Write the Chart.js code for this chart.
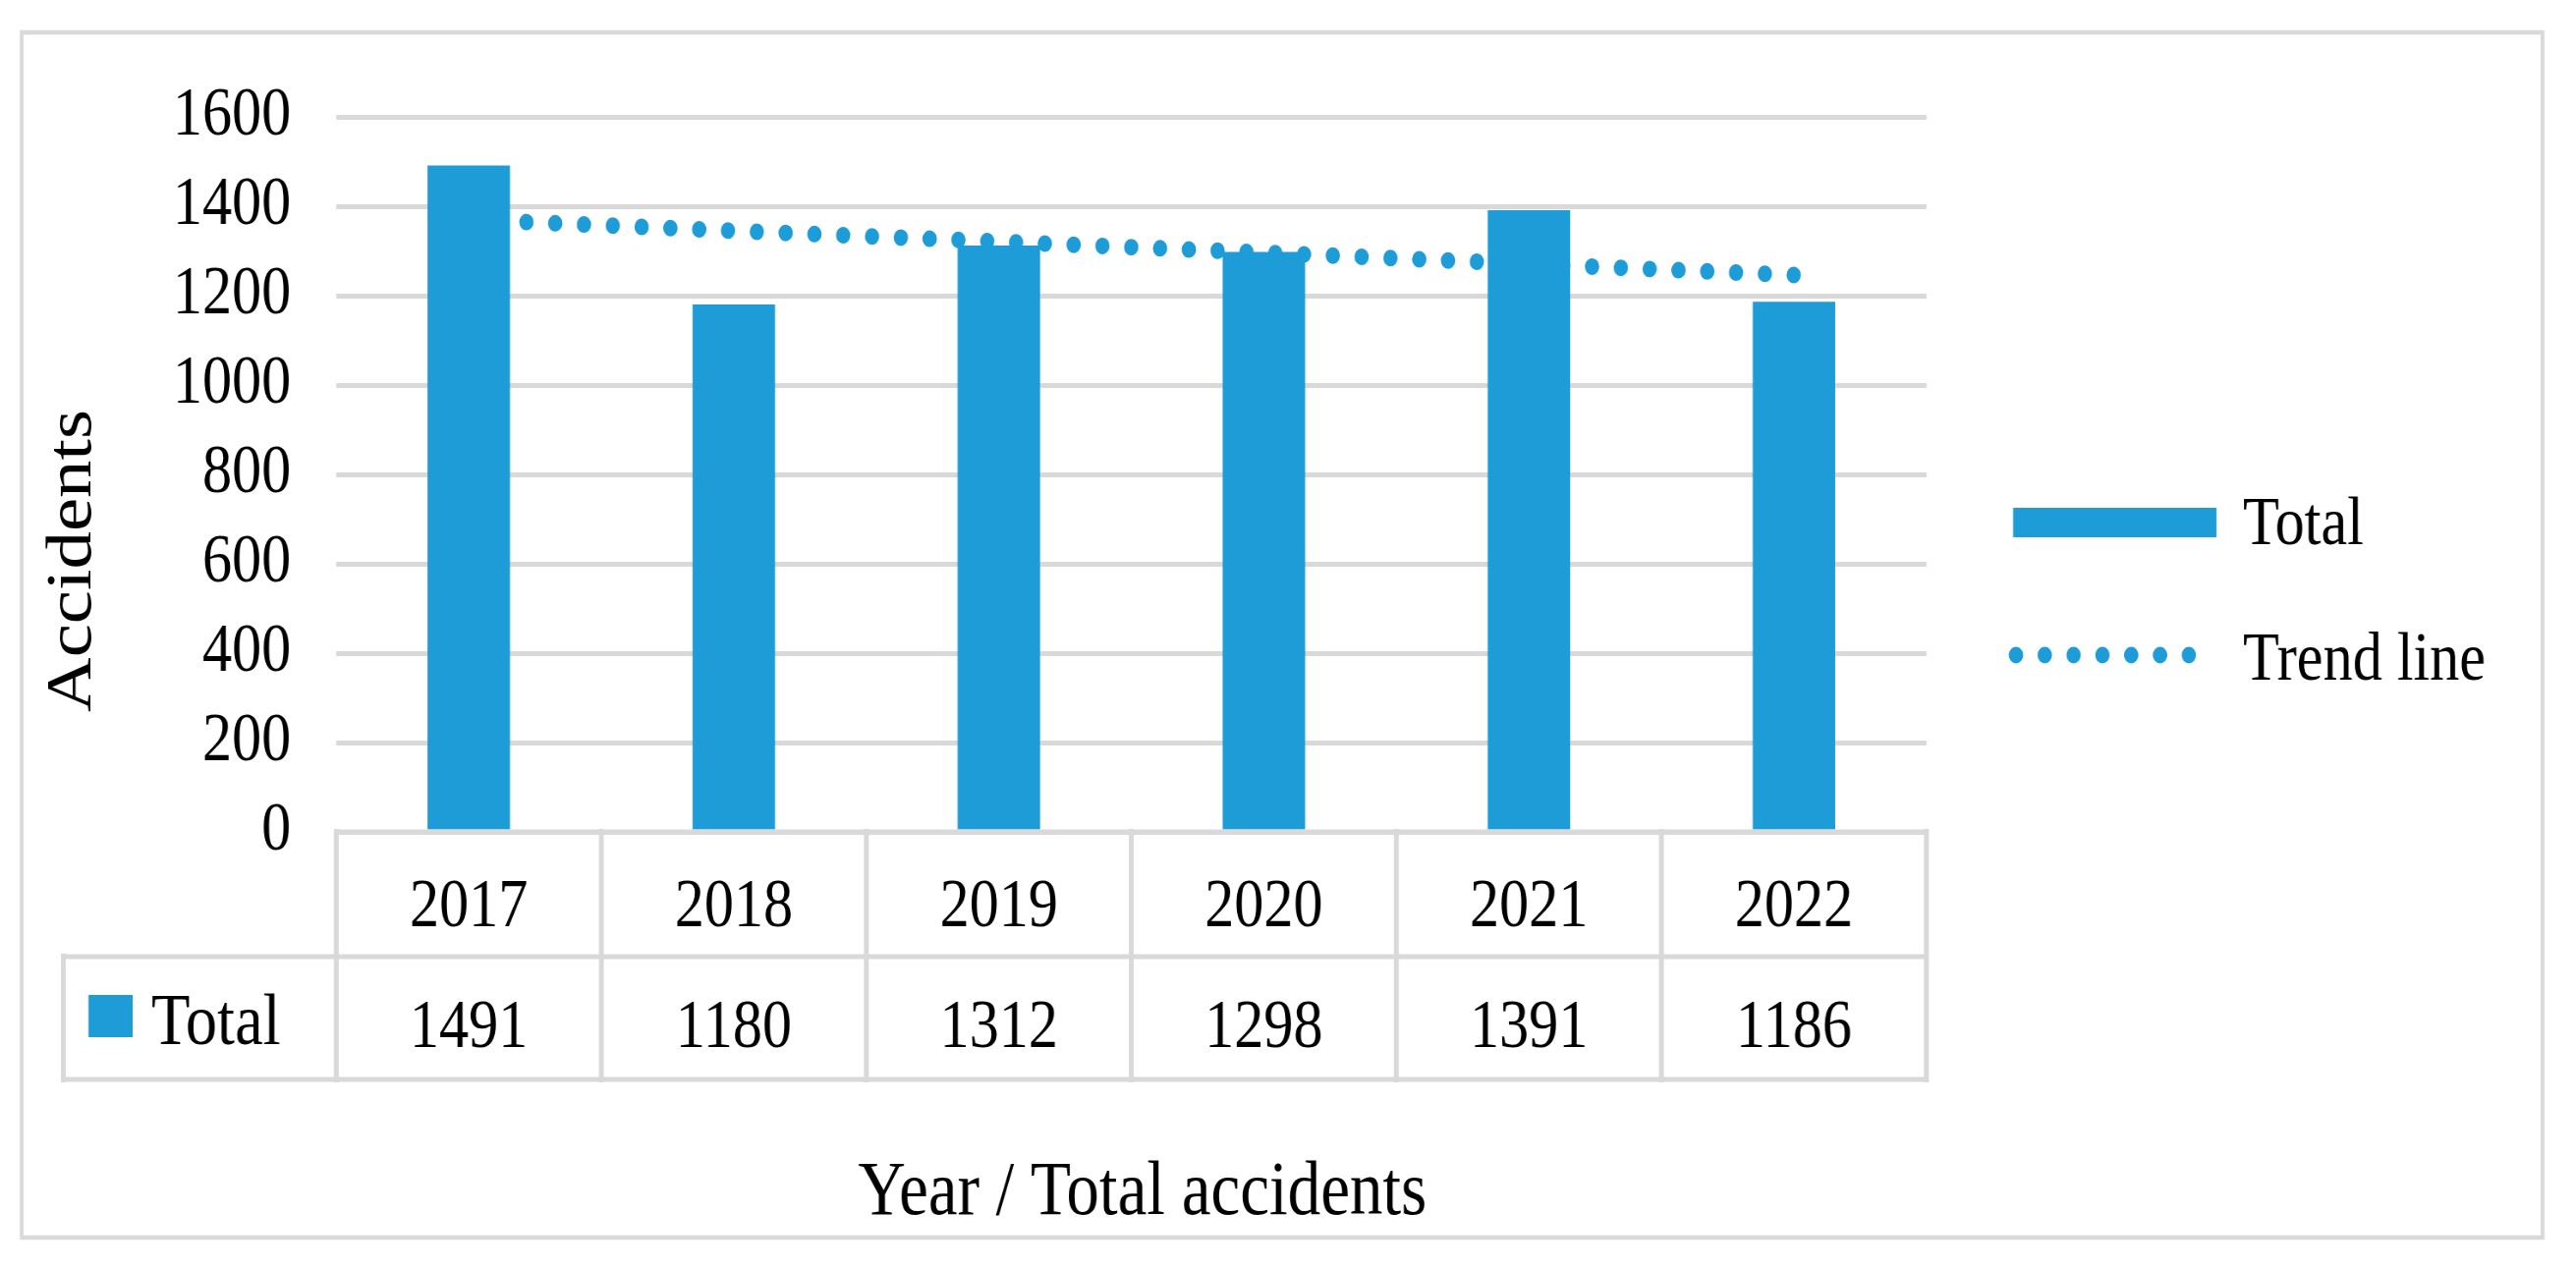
<!DOCTYPE html>
<html>
<head>
<meta charset="utf-8">
<title>Accidents per year</title>
<script src="https://cdn.jsdelivr.net/npm/chart.js@4.4.0/dist/chart.umd.min.js"></script>
<style>
  html, body { margin: 0; padding: 0; background: #fff; overflow: hidden; }
  /* the reference is squeezed sideways, so draw wide and squeeze it the same way */
  #wrap { width: 3049px; height: 1291px; transform: scaleX(0.86); transform-origin: 0 0; }
</style>
</head>
<body>
<div id="wrap"><canvas id="chart" width="3049" height="1291"></canvas></div>
<script>
// data
const years = ["2017", "2018", "2019", "2020", "2021", "2022"];
const totals = [1491, 1180, 1312, 1298, 1391, 1186];
const trendLine = [1370, 1345, 1321, 1296, 1271, 1246];
const yMin = 0;
const yMax = 1600;
const yStep = 200;

const BLUE = "#1e9cd8";
const GRID = "#d9d9d9";
const SERIF = "'Liberation Serif', 'Times New Roman', serif";

function seg(ctx, x1, y1, x2, y2) {
  ctx.beginPath();
  ctx.moveTo(x1, y1);
  ctx.lineTo(x2, y2);
  ctx.stroke();
}

// frame, data table under the x axis, legend and axis titles
const extras = {
  id: "extras",
  afterDraw(chart) {
    const ctx = chart.ctx;
    const x = chart.scales.x;
    const colW = (x.right - x.left) / years.length;
    const top = chart.chartArea.bottom;
    const mid = 974, bot = 1099, hdrLeft = 75;

    ctx.save();
    ctx.strokeStyle = GRID;
    ctx.lineCap = "square";

    // outer frame
    ctx.lineWidth = 4.5;
    ctx.strokeRect(25.6, 33, 2983.7, 1227);

    // table lines
    ctx.lineWidth = 5;
    seg(ctx, x.left, top, x.right, top);
    seg(ctx, hdrLeft, mid, x.right, mid);
    seg(ctx, hdrLeft, bot, x.right, bot);
    ctx.lineWidth = 5.8;
    for (let i = 0; i <= years.length; i++) {
      const px = x.left + i * colW;
      seg(ctx, px, top, px, bot);
    }
    seg(ctx, hdrLeft, mid, hdrLeft, bot);

    // table text
    ctx.fillStyle = "#000";
    ctx.textAlign = "center";
    ctx.textBaseline = "alphabetic";
    ctx.font = "70px " + SERIF;
    years.forEach((yr, i) => {
      const cx = x.getPixelForValue(i);
      ctx.fillText(yr, cx, 943);
      ctx.fillText(String(totals[i]), cx, 1066);
    });

    // row header
    ctx.fillStyle = BLUE;
    ctx.fillRect(104.7, 1013, 52.3, 43);
    ctx.fillStyle = "#000";
    ctx.textAlign = "left";
    ctx.font = "75px " + SERIF;
    ctx.fillText("Total", 179, 1063);

    // legend
    ctx.fillStyle = BLUE;
    ctx.fillRect(2382.6, 517, 240.7, 30);
    for (let i = 0; i < 7; i++) {
      ctx.beginPath();
      ctx.arc(2386 + i * 34.1, 667, 8.5, 0, Math.PI * 2);
      ctx.fill();
    }
    ctx.fillStyle = "#000";
    ctx.font = "70px " + SERIF;
    ctx.fillText("Total", 2654.7, 554);
    ctx.fillText("Trend line", 2654.7, 692);

    // axis titles
    ctx.textAlign = "center";
    ctx.font = "78px " + SERIF;
    ctx.fillText("Year / Total accidents", 1352, 1236);
    ctx.translate(107, 571);
    ctx.rotate(-Math.PI / 2);
    ctx.font = "77px " + SERIF;
    ctx.fillText("Accidents", 0, 0);
    ctx.restore();
  }
};

new Chart(document.getElementById("chart"), {
  type: "bar",
  data: {
    labels: years,
    datasets: [
      {
        type: "line",
        label: "Trend line",
        data: trendLine,
        borderColor: BLUE,
        borderWidth: 17,
        borderDash: [0.01, 34.1],
        borderCapStyle: "round",
        pointRadius: 0,
        fill: false,
        tension: 0,
        order: 0
      },
      {
        label: "Total",
        data: totals,
        backgroundColor: BLUE,
        borderWidth: 0,
        barPercentage: 0.311,
        categoryPercentage: 1.0,
        order: 1
      }
    ]
  },
  options: {
    responsive: false,
    devicePixelRatio: 1,
    animation: false,
    layout: { padding: { left: 0, right: 769, top: 119, bottom: 0 } },
    plugins: {
      legend: { display: false },
      tooltip: { enabled: false }
    },
    scales: {
      x: {
        ticks: { display: false },
        grid: { display: false },
        border: { display: false },
        afterFit: (scale) => { scale.height = 444; }
      },
      y: {
        min: yMin,
        max: yMax,
        ticks: {
          stepSize: yStep,
          color: "#000",
          padding: 53.5,
          font: { family: SERIF, size: 70 },
          callback: (v) => String(v)
        },
        grid: { color: GRID, lineWidth: 5, drawTicks: false },
        border: { display: false },
        afterFit: (scale) => { scale.width = 398; }
      }
    }
  },
  plugins: [extras]
});
</script>
</body>
</html>
